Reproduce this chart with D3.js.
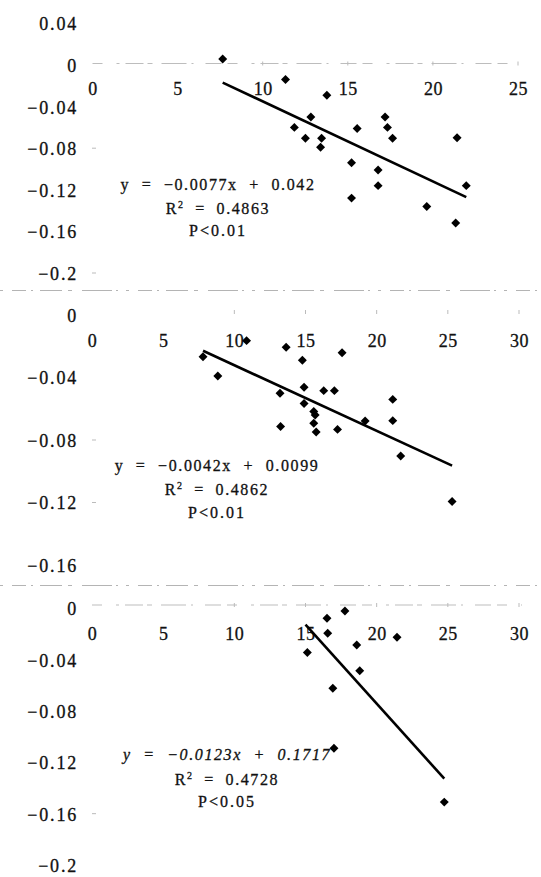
<!DOCTYPE html>
<html><head><meta charset="utf-8">
<script src="https://cdn.jsdelivr.net/npm/d3@7"></script>
<style>
body{margin:0;background:#fff}
svg{display:block}
svg text{font-family:"Liberation Serif","Times New Roman","DejaVu Serif",serif;fill:#111;stroke:#111;stroke-width:0.3px}
</style>
</head><body>
<svg id="c" width="541" height="877"></svg>
<script>
// ---------- data ----------
const p1X = [7.65,11.34,13.77,12.83,11.86,12.51,13.46,13.40,15.55,15.22,15.22,17.19,17.33,17.63,16.78,16.78,19.64,21.42,21.96,21.34];
const p1Y = [0.0057,-0.014,-0.029,-0.050,-0.060,-0.0705,-0.0705,-0.079,-0.061,-0.094,-0.128,-0.050,-0.060,-0.0705,-0.101,-0.116,-0.136,-0.070,-0.116,-0.152];
const p1LineX = [7.65, 21.96];
const p1LineY = [-0.0169, -0.1271];
const p1XTicks = [0,5,10,15,20,25];
const p1YTicks = [0.04,0,-0.04,-0.08,-0.12,-0.16,-0.2];
const p1YLabels = ["0.04","0","−0.04","−0.08","−0.12","−0.16","−0.2"];
const p1Text = ["y = −0.0077x + 0.042","0.4863","P<0.01"];

const p2X = [10.86,13.64,14.78,17.57,7.80,8.84,13.21,14.90,16.28,17.03,14.90,15.58,15.68,15.58,15.75,13.25,17.25,19.19,21.13,21.13,21.69,25.30];
const p2Y = [-0.0164,-0.0207,-0.0290,-0.0241,-0.0267,-0.0390,-0.0501,-0.0463,-0.0484,-0.0484,-0.0567,-0.0617,-0.0640,-0.0693,-0.0749,-0.0713,-0.0732,-0.0678,-0.0540,-0.0676,-0.0902,-0.1193];
const p2LineX = [7.80, 25.30];
const p2LineY = [-0.0229, -0.0964];
const p2XTicks = [0,5,10,15,20,25,30];
const p2YTicks = [0,-0.04,-0.08,-0.12,-0.16];
const p2YLabels = ["0","−0.04","−0.08","−0.12","−0.16"];
const p2Text = ["y = −0.0042x + 0.0099","0.4862","P<0.01"];

const p3X = [17.77,16.51,16.56,15.13,18.60,18.81,21.43,16.92,17.00,24.75];
const p3Y = [-0.0021,-0.0078,-0.0195,-0.0345,-0.0286,-0.0486,-0.0226,-0.0623,-0.1090,-0.1510];
const p3LineX = [15.0, 24.75];
const p3LineY = [-0.0128, -0.1327];
const p3XTicks = [0,5,10,15,20,25,30];
const p3YTicks = [0,-0.04,-0.08,-0.12,-0.16,-0.2];
const p3YLabels = ["0","−0.04","−0.08","−0.12","−0.16","−0.2"];
const p3Text = ["y = −0.0123x + 0.1717","0.4728","P<0.05"];

// ---------- layout ----------
const svg = d3.select("#c");

const panels = [
  {xs:p1X, ys:p1Y, lx:p1LineX, ly:p1LineY, xt:p1XTicks, yt:p1YTicks, yl:p1YLabels, txt:p1Text,
   xDom:[0,25], xR:[92.5,518], yDom:[-0.2,0.04], yR:[273,23.4], axisY:63.5, xLabY:88.5,
   axisLine:true, eq:{x:218,y:[184,208,230]}, italic:false, faint:[-0.08,-0.2]},
  {xs:p2X, ys:p2Y, lx:p2LineX, ly:p2LineY, xt:p2XTicks, yt:p2YTicks, yl:p2YLabels, txt:p2Text,
   xDom:[0,30], xR:[92,519], yDom:[-0.16,0], yR:[565,315], axisY:312, xLabY:340.5,
   axisLine:false, eq:{x:217,y:[465,489,512]}, italic:false, faint:[-0.08,-0.12]},
  {xs:p3X, ys:p3Y, lx:p3LineX, ly:p3LineY, xt:p3XTicks, yt:p3YTicks, yl:p3YLabels, txt:p3Text,
   xDom:[0,30], xR:[92,519], yDom:[-0.2,0], yR:[865,608.3], axisY:605, xLabY:633.5,
   axisLine:true, eq:{x:227,y:[754,779,801]}, italic:true, faint:[-0.16]}
];

// separators (faint scan lines)
[290.5, 585.5].forEach(y => {
  svg.append("line").attr("x1",0).attr("x2",541).attr("y1",y).attr("y2",y)
    .attr("stroke","#b4b4b4").attr("stroke-width",1)
    .attr("stroke-dasharray","3 9 14 5 2 7 22 6 4 10 30 4 2 8");
});

panels.forEach(p => {
  const x = d3.scaleLinear().domain(p.xDom).range(p.xR);
  const y = d3.scaleLinear().domain(p.yDom).range(p.yR);
  const g = svg.append("g");

  if (p.axisLine) {
    g.append("line").attr("x1",x(0)).attr("x2",x(p.xDom[1])+3)
      .attr("y1",p.axisY).attr("y2",p.axisY)
      .attr("stroke","#bdbdbd").attr("stroke-width",1)
      .attr("stroke-dasharray","10 14 3 6 18 4 5 9 25 5 2 12 16 6");
  }
  p.xt.filter(v => v>=10).forEach(v => {
    g.append("line").attr("x1",x(v)).attr("x2",x(v))
      .attr("y1",p.axisY-2).attr("y2",p.axisY+2)
      .attr("stroke","#bbb").attr("stroke-width",1);
  });
  p.faint.forEach(v => {
    g.append("line").attr("x1",92).attr("x2",96).attr("y1",y(v)).attr("y2",y(v))
      .attr("stroke","#bbb").attr("stroke-width",1);
  });

  // x axis labels
  const xa = g.append("g").attr("transform",`translate(0,${p.xLabY})`)
    .call(d3.axisBottom(x).tickValues(p.xt).tickSize(0).tickPadding(0).tickFormat(d3.format("d")));
  xa.attr("font-family",null).attr("font-size",null);
  xa.select(".domain").remove();
  xa.selectAll("text").attr("y",0).attr("dy","0.36em").attr("fill",null)
    .style("font-size","18px").style("letter-spacing","0.5px");

  // y axis labels
  const ya = g.append("g").attr("transform","translate(78,0)")
    .call(d3.axisLeft(y).tickValues(p.yt).tickSize(0).tickPadding(0)
      .tickFormat((d,i) => p.yl[i]));
  ya.attr("font-family",null).attr("font-size",null);
  ya.select(".domain").remove();
  ya.selectAll("text").attr("dy","0.36em").attr("fill",null)
    .style("font-size","18px").style("letter-spacing","1.8px");

  // trend line
  g.append("path").datum(d3.zip(p.lx, p.ly))
    .attr("d", d3.line().x(d => x(d[0])).y(d => y(d[1])))
    .attr("fill","none").attr("stroke","#000").attr("stroke-width",2.6);

  // points
  g.selectAll("path.pt").data(d3.zip(p.xs, p.ys)).join("path").attr("class","pt")
    .attr("d", d3.symbol(d3.symbolSquare, 40)())
    .attr("transform", d => `translate(${x(d[0])},${y(d[1])}) rotate(45)`)
    .attr("fill","#000");

  // equation text
  const t = g.append("g");
  t.append("text").attr("x",p.eq.x).attr("y",p.eq.y[0]).attr("dy","0.36em")
    .attr("text-anchor","middle")
    .style("font-size","16px").style("letter-spacing","1.6px").style("word-spacing","6px")
    .style("font-style", p.italic ? "italic" : "normal")
    .text(p.txt[0]);
  const r = t.append("text").attr("x",p.eq.x).attr("y",p.eq.y[1]).attr("dy","0.36em")
    .attr("text-anchor","middle")
    .style("font-size","16px").style("letter-spacing","1.6px").style("word-spacing","5px");
  r.append("tspan").text("R");
  r.append("tspan").style("font-size","10px").attr("dy","-0.6em").text("2");
  r.append("tspan").attr("dy","0.38em").text(" = " + p.txt[1]);
  t.append("text").attr("x",p.eq.x).attr("y",p.eq.y[2]).attr("dy","0.36em")
    .attr("text-anchor","middle")
    .style("font-size","16px").style("letter-spacing","2px")
    .text(p.txt[2]);
});
</script>
</body></html>
